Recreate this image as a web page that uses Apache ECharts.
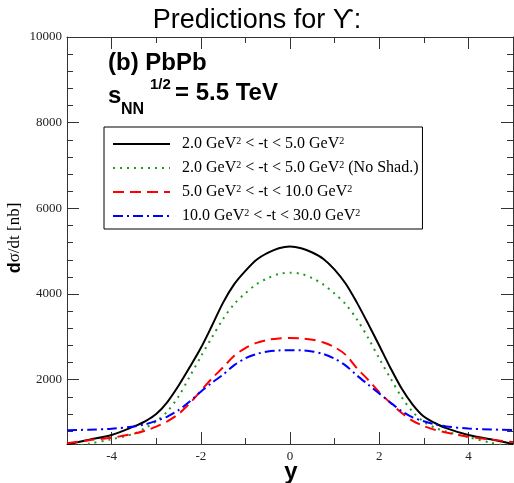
<!DOCTYPE html>
<html>
<head>
<meta charset="utf-8">
<script src="https://cdn.jsdelivr.net/npm/echarts@6/dist/echarts.min.js"></script>
<style>
  html, body { margin: 0; padding: 0; background: #fff; }
  #chart { width: 514px; height: 483px; }
</style>
</head>
<body>
<div id="chart"></div>
<script>
// Rapidity values (y) at which the cross sections are tabulated
const rapidity = [-5, -4.5, -4, -3.5,
  -3.25, -3, -2.75, -2.5, -2.25, -2, -1.75, -1.5, -1.25, -1, -0.75, -0.5, -0.25, 0,
  0.25, 0.5, 0.75, 1, 1.25, 1.5, 1.75, 2, 2.25, 2.5, 2.75, 3, 3.25,
  3.5, 4, 4.5, 5];

// dσ/dt [nb] for each -t window
const tLow = [490, 600, 710, 910,
  1030, 1200, 1480, 1860, 2290, 2740, 3260, 3800, 4230, 4540, 4800, 4960, 5070, 5110,
  5070, 4970, 4820, 4570, 4240, 3800, 3310, 2800, 2280, 1800, 1420, 1140, 990,
  870, 710, 610, 500];
const tLowNoShad = [420, 510, 610, 740,
  870, 1030, 1260, 1610, 2070, 2540, 2990, 3420, 3770, 4020, 4230, 4370, 4470, 4500,
  4470, 4370, 4220, 4010, 3760, 3410, 2980, 2500, 2040, 1600, 1250, 1020, 880,
  790, 660, 530, 420];
const tMid = [520, 590, 645, 740,
  810, 905, 1030, 1200, 1450, 1740, 2030, 2290, 2560, 2740, 2860, 2930, 2965, 2975,
  2965, 2935, 2870, 2760, 2580, 2270, 2000, 1710, 1460, 1230, 1040, 920, 830,
  770, 670, 605, 545];
const tHigh = [820, 835, 855, 910,
  960, 1040, 1140, 1290, 1490, 1720, 1930, 2120, 2340, 2500, 2600, 2660, 2685, 2690,
  2685, 2660, 2600, 2490, 2330, 2100, 1890, 1680, 1470, 1270, 1120, 1030, 960,
  910, 860, 840, 825];

// Axis ticks and labels
const xMajor = [-4, -2, 0, 2, 4];
const yMajor = [2000, 4000, 6000, 8000, 10000];
const yMinor = [800, 1200, 1600, 2000, 2400, 2800, 3200, 3600, 4000, 4400, 4800,
                5200, 5600, 6000, 6400, 6800, 7200, 7600, 8000, 8400, 8800,
                9200, 9600, 10000];

const seriesNames = [
  '2.0 GeV2 < -t < 5.0 GeV2',
  '2.0 GeV2 < -t < 5.0 GeV2 (No Shad.)',
  '5.0 GeV2 < -t < 10.0 GeV2',
  '10.0 GeV2 < -t < 30.0 GeV2'
];
const legendLabels = [
  '2.0 GeV{s|2} < -t < 5.0 GeV{s|2}',
  '2.0 GeV{s|2} < -t < 5.0 GeV{s|2} (No Shad.)',
  '5.0 GeV{s|2} < -t < 10.0 GeV{s|2}',
  '10.0 GeV{s|2} < -t < 30.0 GeV{s|2}'
];

const pairs = arr => rapidity.map((x, i) => [x, arr[i]]);

const AXIS_COLOR = '#333';
const serif = 'Liberation Serif';

function xAx(position, tickLen, custom, showLabel, showLine) {
  const tick = { show: true, inside: true, length: tickLen, lineStyle: { color: AXIS_COLOR, width: 1 } };
  if (custom) tick.customValues = custom;
  return {
    type: 'value', position: position, min: -5, max: 5, interval: 1,
    axisLine: { show: showLine, onZero: false, lineStyle: { color: AXIS_COLOR, width: 1 } },
    axisTick: tick,
    splitLine: { show: false },
    axisLabel: showLabel ? {
      customValues: xMajor, margin: 6, color: '#222',
      fontFamily: serif, fontSize: 13, formatter: v => String(v)
    } : { show: false }
  };
}
function yAx(position, tickLen, custom, showLabel, showLine) {
  return {
    type: 'value', position: position, min: 500, max: 10000,
    axisLine: { show: showLine, onZero: false, lineStyle: { color: AXIS_COLOR, width: 1 } },
    axisTick: { show: true, inside: true, length: tickLen, customValues: custom,
                lineStyle: { color: AXIS_COLOR, width: 1 } },
    splitLine: { show: false },
    axisLabel: showLabel ? {
      customValues: yMajor, margin: 5, color: '#222',
      fontFamily: serif, fontSize: 13, formatter: v => String(v)
    } : { show: false }
  };
}

function curve(idx, values, color, dash) {
  return {
    name: seriesNames[idx], type: 'line', data: pairs(values),
    showSymbol: false, symbol: 'none', smooth: 0.3,
    lineStyle: { color: color, width: 2, type: dash }, itemStyle: { color: color }
  };
}

const chart = echarts.init(document.getElementById('chart'), null, { renderer: 'canvas' });

chart.setOption({
  animation: false,
  backgroundColor: '#fff',
  grid: { left: 67, right: 1, top: 37, bottom: 39, containLabel: false },
  xAxis: [
    xAx('bottom', 6, null, true, true),
    xAx('bottom', 12, xMajor, false, false),
    xAx('top', 6, null, false, true),
    xAx('top', 12, xMajor, false, false)
  ],
  yAxis: [
    yAx('left', 6, yMinor, true, true),
    yAx('left', 12, yMajor, false, false),
    yAx('right', 6, yMinor, false, true),
    yAx('right', 12, yMajor, false, false)
  ],
  legend: {
    orient: 'vertical',
    left: 104, top: 127,
    padding: [9, 4, 5, 8],
    itemWidth: 57, itemHeight: 14, itemGap: 8,
    backgroundColor: '#fff',
    borderColor: '#000', borderWidth: 1, borderRadius: 0,
    selectedMode: false,
    itemStyle: { opacity: 0 },
    data: seriesNames,
    formatter: name => legendLabels[seriesNames.indexOf(name)],
    textStyle: {
      fontFamily: serif, fontSize: 16, color: '#000', padding: [0, 0, 0, 7],
      rich: { s: { fontFamily: serif, fontSize: 10, verticalAlign: 'top', padding: [0, 0, 6, 0] } }
    }
  },
  series: [
    curve(0, tLow, '#000000', 'solid'),
    curve(1, tLowNoShad, '#1f9a1f', [2, 5]),
    curve(2, tMid, '#ff0000', [11, 6]),
    curve(3, tHigh, '#0000ff', [10, 4, 2, 4])
  ],
  graphic: [
    { type: 'text', x: 257, y: 21, style: {
        text: 'Predictions for ϒ:', fill: '#000', font: '27px "Liberation Sans"',
        textAlign: 'center', textVerticalAlign: 'middle' } },
    { type: 'text', x: 108, y: 63, z: 5, style: {
        text: '(b) PbPb', fill: '#000', font: 'bold 24px "Liberation Sans"',
        textAlign: 'left', textVerticalAlign: 'middle' } },
    { type: 'text', x: 108, y: 96, z: 5, style: {
        text: 's', fill: '#000', font: 'bold 24px "Liberation Sans"',
        textAlign: 'left', textVerticalAlign: 'middle' } },
    { type: 'text', x: 121, y: 110, z: 5, style: {
        text: 'NN', fill: '#000', font: 'bold 16px "Liberation Sans"',
        textAlign: 'left', textVerticalAlign: 'middle' } },
    { type: 'text', x: 150, y: 85, z: 5, style: {
        text: '1/2', fill: '#000', font: 'bold 15px "Liberation Sans"',
        textAlign: 'left', textVerticalAlign: 'middle' } },
    { type: 'text', x: 175, y: 93, z: 5, style: {
        text: '= 5.5 TeV', fill: '#000', font: 'bold 24px "Liberation Sans"',
        textAlign: 'left', textVerticalAlign: 'middle' } },
    { type: 'text', x: 15, y: 238, rotation: Math.PI / 2, style: {
        text: '{b|d}σ/dt [nb]', fill: '#000', font: '17px "Liberation Serif"',
        textAlign: 'center', textVerticalAlign: 'middle',
        rich: { b: { font: 'bold 18px "Liberation Sans"', fill: '#000' } } } },
    { type: 'text', x: 291, y: 472, style: {
        text: 'y', fill: '#000', font: 'bold 24px "Liberation Sans"',
        textAlign: 'center', textVerticalAlign: 'middle' } }
  ]
});
</script>
</body>
</html>
